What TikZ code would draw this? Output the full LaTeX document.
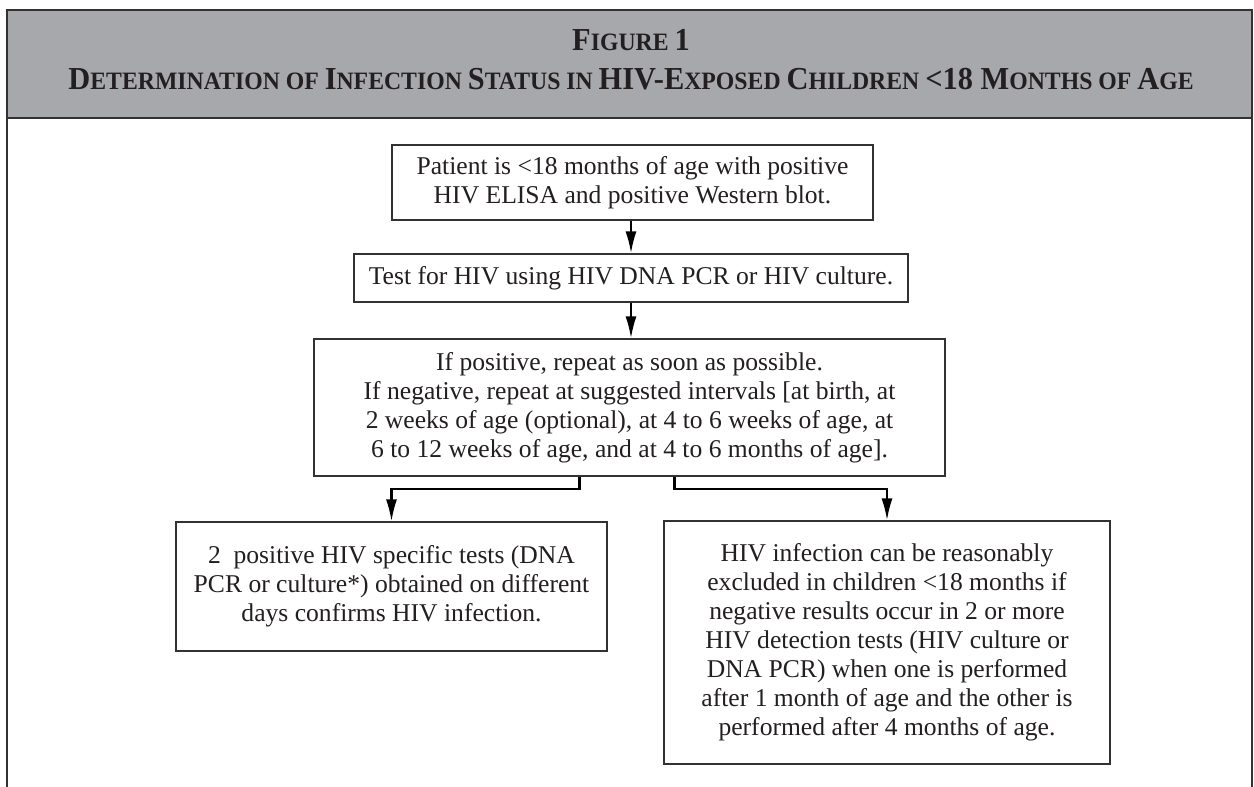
\documentclass[tikz,border=0pt]{standalone}
\usepackage{fontspec}
\setmainfont{Liberation Serif}
\newfontfamily\titlefont[FakeStretch=0.95]{Liberation Serif}
\usetikzlibrary{arrows.meta}
\definecolor{bandgray}{RGB}{167,168,172}
\definecolor{boxline}{RGB}{50,50,50}
\definecolor{titletext}{RGB}{35,31,32}
\newcommand{\tcap}[1]{{\fontsize{32}{32}\selectfont #1}}
\tikzset{
  box/.style={draw=boxline, line width=1.2pt, fill=white, align=center, inner sep=0pt, text=titletext, font=\fontsize{25.6}{29}\selectfont},
  arr/.style={line width=2.2pt, -{Latex[length=22pt,width=11pt]}},
  ttl/.style={text=titletext, anchor=base, font=\titlefont\bfseries\fontsize{25}{25}\selectfont}
}

\begin{document}
\begin{tikzpicture}[x=1pt, y=-1pt]
\useasboundingbox (0,0) rectangle (1254,787);
% heading band and frame
\fill[bandgray] (7,10) rectangle (1252,118);
\draw[boxline, line width=1.8pt] (7,787) -- (7,10) -- (1252,10) -- (1252,787);
\draw[boxline, line width=2pt] (7,118) -- (1252,118);
\node[ttl] (fignum) at (631,50) {\tcap{F}IGURE \tcap{1}};
\node[ttl] (figtitle) at (631,89) {\tcap{D}ETERMINATION OF \tcap{I}NFECTION \tcap{S}TATUS IN \tcap{HIV-E}XPOSED \tcap{C}HILDREN \tcap{<18 M}ONTHS OF \tcap{A}GE};
% boxes
\node[box, minimum width=481pt, minimum height=75pt] (patient) at (632.5,182.5) {Patient is <18 months of age with positive\\HIV ELISA and positive Western blot.};
\node[box, minimum width=554pt, minimum height=48pt] (test) at (631,278) {Test for HIV using HIV DNA PCR or HIV culture.};
\node[box, minimum width=631pt, minimum height=137pt] (repeat) at (629.5,407.5) {If positive, repeat as soon as possible.\\If negative, repeat at suggested intervals [at birth, at\\2 weeks of age (optional), at 4 to 6 weeks of age, at\\6 to 12 weeks of age, and at 4 to 6 months of age].};
\node[box, minimum width=431pt, minimum height=129pt] (confirm) at (391.5,586.5) {2\enspace positive HIV specific tests (DNA\\PCR or culture*) obtained on different\\days confirms HIV infection.};
\node[box, minimum width=446pt, minimum height=243pt] (exclude) at (887,642.5) {HIV infection can be reasonably\\excluded in children <18 months if\\negative results occur in 2 or more\\HIV detection tests (HIV culture or\\DNA PCR) when one is performed\\after 1 month of age and the other is\\performed after 4 months of age.};
% connectors
\draw[arr] (patient.south -| test.north) -- (test.north);
\draw[arr] (test.south) -- (repeat.north -| test.south);
\draw[arr] ([xshift=-50pt]repeat.south) -- ++(0,12) -| (confirm.north);
\draw[arr] ([xshift=45pt]repeat.south) -- ++(0,12) -| (exclude.north);
\end{tikzpicture}
\end{document}
